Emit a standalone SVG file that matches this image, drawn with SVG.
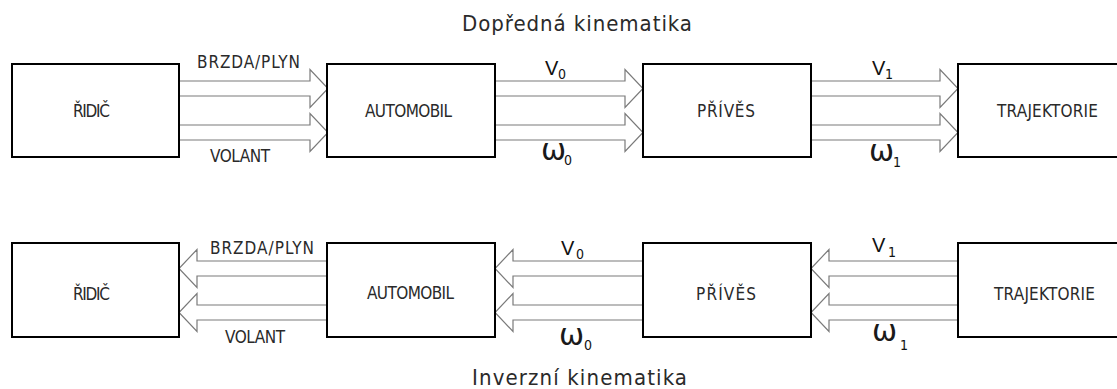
<svg xmlns="http://www.w3.org/2000/svg" width="1117" height="389" viewBox="0 0 1117 389">
  <style>
    .box { fill: #fff; stroke: #000; stroke-width: 2; }
    .lbl { font-family: "DejaVu Sans Condensed", "DejaVu Sans", sans-serif; fill: #2a2a2a; }
    .node { font-size: 17px; }
    .sig { font-size: 17px; }
    .title { font-size: 22px; }
    .v { font-family: "Liberation Sans", "DejaVu Sans", sans-serif; fill: #111; font-size: 20px; }
    .w { font-family: "DejaVu Sans", sans-serif; fill: #1a1a1a; font-size: 30px; }
    .sub { font-family: "DejaVu Sans Condensed", "DejaVu Sans", sans-serif; fill: #111; font-size: 14px; }
    .arrow { fill: #fff; stroke: #7a7a7a; stroke-width: 1.2; stroke-linejoin: miter; }
  </style>

  <!-- titles -->
  <text class="lbl title" x="462" y="31" textLength="230">Dopředná kinematika</text>
  <text class="lbl title" x="472" y="385" textLength="215">Inverzní kinematika</text>

  <!-- hollow double arrows (forward row points right, inverse row points left) -->
  <g id="connectors">
    <!-- forward: ŘIDIČ -> AUTOMOBIL -->
    <path class="arrow" d="M179,81 H310 V69.5 L328,88.5 L310,107.5 V96 H179"/>
    <path class="arrow" d="M179,125 H310 V113.5 L328,132.5 L310,151.5 V140 H179"/>
    <!-- forward: AUTOMOBIL -> PŘÍVĚS -->
    <path class="arrow" d="M495,81 H625 V69.5 L643,88.5 L625,107.5 V96 H495"/>
    <path class="arrow" d="M495,125 H625 V113.5 L643,132.5 L625,151.5 V140 H495"/>
    <!-- forward: PŘÍVĚS -> TRAJEKTORIE -->
    <path class="arrow" d="M811,81 H940 V69.5 L958,88.5 L940,107.5 V96 H811"/>
    <path class="arrow" d="M811,125 H940 V113.5 L958,132.5 L940,151.5 V140 H811"/>

    <!-- inverse: AUTOMOBIL -> ŘIDIČ -->
    <path class="arrow" d="M327,261 H197 V249.5 L179,268.5 L197,287.5 V276 H327"/>
    <path class="arrow" d="M327,305 H197 V293.5 L179,312.5 L197,331.5 V320 H327"/>
    <!-- inverse: PŘÍVĚS -> AUTOMOBIL -->
    <path class="arrow" d="M643,261 H513 V249.5 L495,268.5 L513,287.5 V276 H643"/>
    <path class="arrow" d="M643,305 H513 V293.5 L495,312.5 L513,331.5 V320 H643"/>
    <!-- inverse: TRAJEKTORIE -> PŘÍVĚS -->
    <path class="arrow" d="M958,261 H829 V249.5 L811,268.5 L829,287.5 V276 H958"/>
    <path class="arrow" d="M958,305 H829 V293.5 L811,312.5 L829,331.5 V320 H958"/>
  </g>

  <!-- forward kinematics row -->
  <g id="ridic-f">
    <rect class="box" x="12" y="64" width="167" height="93"/>
    <text class="lbl node" x="73" y="117" textLength="37">ŘIDIČ</text>
  </g>
  <g id="automobil-f">
    <rect class="box" x="327" y="64" width="168" height="93"/>
    <text class="lbl node" x="365" y="117" textLength="87">AUTOMOBIL</text>
  </g>
  <g id="prives-f">
    <rect class="box" x="643" y="64" width="168" height="93"/>
    <text class="lbl node" x="697" y="117" textLength="58">PŘÍVĚS</text>
  </g>
  <g id="trajektorie-f">
    <rect class="box" x="958" y="64" width="170" height="93"/>
    <text class="lbl node" x="997" y="117" textLength="101">TRAJEKTORIE</text>
  </g>

  <!-- inverse kinematics row -->
  <g id="ridic-i">
    <rect class="box" x="12" y="243" width="167" height="94"/>
    <text class="lbl node" x="73" y="300" textLength="37">ŘIDIČ</text>
  </g>
  <g id="automobil-i">
    <rect class="box" x="327" y="243" width="168" height="94"/>
    <text class="lbl node" x="367" y="299" textLength="87">AUTOMOBIL</text>
  </g>
  <g id="prives-i">
    <rect class="box" x="643" y="243" width="168" height="94"/>
    <text class="lbl node" x="696" y="300" textLength="60">PŘÍVĚS</text>
  </g>
  <g id="trajektorie-i">
    <rect class="box" x="958" y="243" width="170" height="94"/>
    <text class="lbl node" x="994" y="300" textLength="101">TRAJEKTORIE</text>
  </g>

  <!-- signal labels, forward row -->
  <g id="labels-f">
    <text class="lbl sig" x="197" y="68" textLength="103">BRZDA/PLYN</text>
    <text class="lbl sig" x="210" y="162" textLength="60">VOLANT</text>
    <text class="v" x="545" y="75">V</text>
    <text class="sub" x="558" y="79">0</text>
    <text class="w" x="541" y="160">ω</text>
    <text class="sub" x="564" y="165">0</text>
    <text class="v" x="872" y="75">V</text>
    <text class="sub" x="885" y="79">1</text>
    <text class="w" x="869" y="161">ω</text>
    <text class="sub" x="893" y="167">1</text>
  </g>

  <!-- signal labels, inverse row -->
  <g id="labels-i">
    <text class="lbl sig" x="210" y="254" textLength="104">BRZDA/PLYN</text>
    <text class="lbl sig" x="225" y="343" textLength="60">VOLANT</text>
    <text class="v" x="561" y="255">V</text>
    <text class="sub" x="576" y="259">0</text>
    <text class="w" x="559" y="345">ω</text>
    <text class="sub" x="584" y="350">0</text>
    <text class="v" x="872" y="252">V</text>
    <text class="sub" x="888" y="257">1</text>
    <text class="w" x="872" y="341">ω</text>
    <text class="sub" x="900" y="350">1</text>
  </g>
</svg>
